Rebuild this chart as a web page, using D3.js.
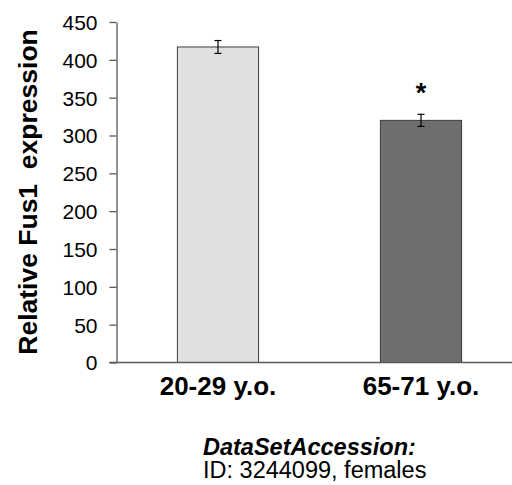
<!DOCTYPE html>
<html>
<head>
  <style>
    body {
      margin: 0;
      background: #fff;
      font-family: "Liberation Sans", Arial, sans-serif;
    }
    .y.axis text { font-size: 21px; fill: #000; }
    .x.axis text { font-size: 26px; font-weight: bold; fill: #000; }
  </style>
</head>
<body>
  <script src="https://d3js.org/d3.v7.min.js"></script>
  <script>
    var groups = ["20-29 y.o.", "65-71 y.o."];
    var values = [417, 320];
    var errors = [8.5, 8];
    var fills = ["#e0e0e0", "#6e6e6e"];
    var marks = ["", "*"];
    var yTicks = [0, 50, 100, 150, 200, 250, 300, 350, 400, 450];

    var width = 512, height = 485;
    var margin = {top: 22, left: 116.5, bottom: 122.5};

    var svg = d3.select("body").append("svg")
      .attr("width", width)
      .attr("height", height);

    var x = d3.scaleBand()
      .domain(groups)
      .range([margin.left, margin.left + 406])
      .paddingInner(0.6)
      .paddingOuter(0.3);

    var y = d3.scaleLinear()
      .domain([0, 450])
      .range([height - margin.bottom, margin.top]);

    // bars
    svg.selectAll(".bar")
      .data(groups)
      .enter().append("rect")
        .attr("class", "bar")
        .attr("x", function(d){ return x(d); })
        .attr("y", function(d, i){ return y(values[i]); })
        .attr("width", x.bandwidth())
        .attr("height", function(d, i){ return y(0) - y(values[i]); })
        .attr("fill", function(d, i){ return fills[i]; })
        .attr("stroke", "#3c3c3c")
        .attr("stroke-width", 1);

    // error bars
    var err = svg.selectAll(".err")
      .data(groups)
      .enter().append("g")
        .attr("class", "err")
        .attr("stroke", "#000")
        .attr("stroke-width", 1.2);

    err.append("line")
      .attr("x1", function(d){ return x(d) + x.bandwidth() / 2; })
      .attr("x2", function(d){ return x(d) + x.bandwidth() / 2; })
      .attr("y1", function(d, i){ return y(values[i] + errors[i]); })
      .attr("y2", function(d, i){ return y(values[i] - errors[i]); });

    [1, -1].forEach(function(s){
      err.append("line")
        .attr("x1", function(d){ return x(d) + x.bandwidth() / 2 - 3.5; })
        .attr("x2", function(d){ return x(d) + x.bandwidth() / 2 + 3.5; })
        .attr("y1", function(d, i){ return y(values[i] + s * errors[i]); })
        .attr("y2", function(d, i){ return y(values[i] + s * errors[i]); });
    });

    // significance
    svg.selectAll(".sig")
      .data(groups)
      .enter().append("text")
        .attr("class", "sig")
        .attr("x", function(d){ return x(d) + x.bandwidth() / 2; })
        .attr("y", function(d, i){ return y(values[i] + errors[i]) - 12; })
        .attr("text-anchor", "middle")
        .style("font-size", "27px")
        .style("font-weight", "bold")
        .text(function(d, i){ return marks[i]; });

    // axes
    var yAxis = d3.axisLeft(y).tickValues(yTicks).tickSize(7).tickPadding(12).tickSizeOuter(0);
    svg.append("g")
      .attr("class", "y axis")
      .attr("transform", "translate(" + margin.left + ",0)")
      .call(yAxis)
      .call(function(g){
        g.selectAll("line, path").attr("stroke", "#5a5a5a").attr("stroke-width", 1.3);
        g.selectAll("text").attr("dy", "0.35em");
      });

    svg.append("g")
      .attr("class", "x axis")
      .attr("transform", "translate(0," + y(0) + ")")
      .call(d3.axisBottom(x).tickSize(0).tickPadding(14))
      .call(function(g){
        g.select(".domain").attr("d", "M" + (margin.left - 7) + ",0H" + width)
          .attr("stroke", "#5a5a5a").attr("stroke-width", 1.3);
        g.selectAll("text").attr("dy", "0.71em");
      });

    // y label
    svg.append("text")
      .attr("transform", "translate(37,192) rotate(-90)")
      .attr("text-anchor", "middle")
      .style("font-size", "26.5px")
      .style("font-weight", "bold")
      .style("white-space", "pre")
      .text("Relative Fus1  expression");

    // caption
    svg.append("text")
      .attr("x", 203)
      .attr("y", 455)
      .style("font-size", "23.5px")
      .style("font-weight", "bold")
      .style("font-style", "italic")
      .text("DataSetAccession:");

    svg.append("text")
      .attr("x", 203)
      .attr("y", 478)
      .style("font-size", "23.5px")
      .text("ID: 3244099, females");
  </script>
</body>
</html>
